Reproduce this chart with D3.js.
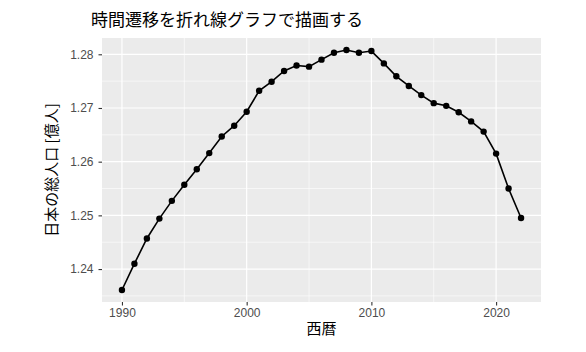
<!DOCTYPE html>
<html><head><meta charset="utf-8">
<script src="https://cdn.jsdelivr.net/npm/d3@7"></script>
<style>body{margin:0;background:#fff}svg{display:block}</style>
</head><body>
<script>
const years = [1990,1991,1992,1993,1994,1995,1996,1997,1998,1999,2000,2001,2002,2003,2004,2005,2006,2007,2008,2009,2010,2011,2012,2013,2014,2015,2016,2017,2018,2019,2020,2021,2022];
const population = [1.2361,1.2410,1.2457,1.2494,1.2527,1.2557,1.2586,1.2616,1.2647,1.2667,1.2693,1.2732,1.2749,1.2769,1.2779,1.2777,1.2790,1.2803,1.2808,1.2803,1.2806,1.2783,1.2759,1.2741,1.2724,1.2709,1.2704,1.2692,1.2675,1.2656,1.2615,1.2550,1.2495];
const xTicks = [1990,2000,2010,2020];
const xMinor = [1995,2005,2015];
const yTicks = [1.24,1.25,1.26,1.27,1.28];
const yMinor = [1.235,1.245,1.255,1.265,1.275];
const title = "時間遷移を折れ線グラフで描画する";
const xLabel = "西暦";
const yLabel = "日本の総人口 [億人]";

const W=586,H=352;
const P={l:102,r:541,t:38,b:302};
const svg=d3.select("body").append("svg").attr("width",W).attr("height",H);
const xs=d3.scaleLinear().domain([1990-1.6,2022+1.6]).range([P.l,P.r]);
const ymin=d3.min(population), ymax=d3.max(population), pad=(ymax-ymin)*0.05;
const ys=d3.scaleLinear().domain([ymin-pad,ymax+pad]).range([P.b,P.t]);

svg.append("rect").attr("x",P.l).attr("y",P.t).attr("width",P.r-P.l).attr("height",P.b-P.t).attr("fill","#EBEBEB");
const g=svg.append("g");
g.selectAll(".xm").data(xMinor).join("line").attr("x1",d=>xs(d)).attr("x2",d=>xs(d)).attr("y1",P.t).attr("y2",P.b).attr("stroke","#fff").attr("stroke-width",0.6);
g.selectAll(".ym").data(yMinor).join("line").attr("y1",d=>ys(d)).attr("y2",d=>ys(d)).attr("x1",P.l).attr("x2",P.r).attr("stroke","#fff").attr("stroke-width",0.6);
g.selectAll(".xM").data(xTicks).join("line").attr("x1",d=>xs(d)).attr("x2",d=>xs(d)).attr("y1",P.t).attr("y2",P.b).attr("stroke","#fff").attr("stroke-width",1.2);
g.selectAll(".yM").data(yTicks).join("line").attr("y1",d=>ys(d)).attr("y2",d=>ys(d)).attr("x1",P.l).attr("x2",P.r).attr("stroke","#fff").attr("stroke-width",1.2);

const xAxis=svg.append("g").attr("transform",`translate(0,${P.b})`).call(d3.axisBottom(xs).tickValues(xTicks).tickFormat(d3.format("d")).tickSize(3.5).tickPadding(3));
const yAxis=svg.append("g").attr("transform",`translate(${P.l},0)`).call(d3.axisLeft(ys).tickValues(yTicks).tickFormat(d3.format(".2f")).tickSize(3.5).tickPadding(5));
[xAxis,yAxis].forEach(a=>{a.select(".domain").remove();a.selectAll("line").attr("stroke","#333").attr("stroke-width",1.1);a.selectAll("text").attr("fill","#4D4D4D").style("font-family","Liberation Sans, Arial, sans-serif").style("font-size","12px");});

const line=d3.line().x((d,i)=>xs(years[i])).y(d=>ys(d));
svg.append("path").attr("d",line(population)).attr("fill","none").attr("stroke","#000").attr("stroke-width",1.6);
svg.selectAll(".pt").data(population).join("circle").attr("cx",(d,i)=>xs(years[i])).attr("cy",d=>ys(d)).attr("r",3.2).attr("fill","#000");

svg.append("text").attr("x",91).attr("y",26).text(title).style("font-family","Noto Sans CJK JP").style("font-size","17px").attr("fill","#000");
svg.append("text").attr("x",(P.l+P.r)/2).attr("y",334).attr("text-anchor","middle").text(xLabel).style("font-family","Noto Sans CJK JP").style("font-size","15px").attr("fill","#000");
svg.append("text").attr("transform",`translate(57,${(P.t+P.b)/2}) rotate(-90)`).attr("text-anchor","middle").text(yLabel).style("font-family","Noto Sans CJK JP").style("font-size","15px").attr("fill","#000");
</script>
</body></html>
